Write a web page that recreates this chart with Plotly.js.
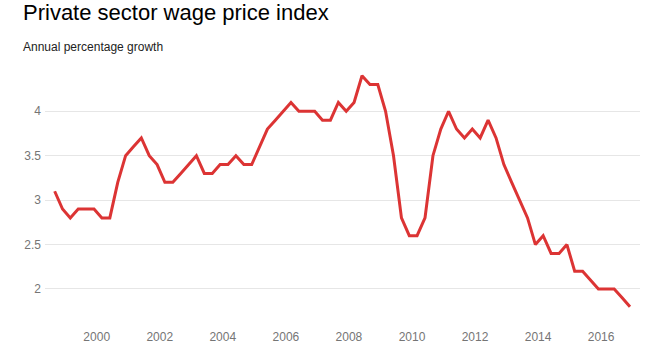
<!DOCTYPE html>
<html>
<head>
<meta charset="utf-8">
<script src="https://cdn.plot.ly/plotly-3.0.1.min.js"></script>
<style>
  html, body { margin: 0; padding: 0; background: #fff; }
  #chart { width: 646px; height: 360px; }
</style>
</head>
<body>
<div id="chart"></div>
<script>
// Quarterly observations (last month of each quarter), Sep 1998 to Dec 2016
const quarters = [
  "1998-09","1998-12",
  "1999-03","1999-06","1999-09","1999-12",
  "2000-03","2000-06","2000-09","2000-12",
  "2001-03","2001-06","2001-09","2001-12",
  "2002-03","2002-06","2002-09","2002-12",
  "2003-03","2003-06","2003-09","2003-12",
  "2004-03","2004-06","2004-09","2004-12",
  "2005-03","2005-06","2005-09","2005-12",
  "2006-03","2006-06","2006-09","2006-12",
  "2007-03","2007-06","2007-09","2007-12",
  "2008-03","2008-06","2008-09","2008-12",
  "2009-03","2009-06","2009-09","2009-12",
  "2010-03","2010-06","2010-09","2010-12",
  "2011-03","2011-06","2011-09","2011-12",
  "2012-03","2012-06","2012-09","2012-12",
  "2013-03","2013-06","2013-09","2013-12",
  "2014-03","2014-06","2014-09","2014-12",
  "2015-03","2015-06","2015-09","2015-12",
  "2016-03","2016-06","2016-09","2016-12"
];

// Annual percentage growth, private sector wage price index
const growth = [
  3.1, 2.9,
  2.8, 2.9, 2.9, 2.9,
  2.8, 2.8, 3.2, 3.5,
  3.6, 3.7, 3.5, 3.4,
  3.2, 3.2, 3.3, 3.4,
  3.5, 3.3, 3.3, 3.4,
  3.4, 3.5, 3.4, 3.4,
  3.6, 3.8, 3.9, 4.0,
  4.1, 4.0, 4.0, 4.0,
  3.9, 3.9, 4.1, 4.0,
  4.1, 4.4, 4.3, 4.3,
  4.0, 3.5, 2.8, 2.6,
  2.6, 2.8, 3.5, 3.8,
  4.0, 3.8, 3.7, 3.8,
  3.7, 3.9, 3.7, 3.4,
  3.2, 3.0, 2.8, 2.5,
  2.6, 2.4, 2.4, 2.5,
  2.2, 2.2, 2.1, 2.0,
  2.0, 2.0, 1.9, 1.8
];

const xTickValues = ["2000-01-01","2002-01-01","2004-01-01","2006-01-01","2008-01-01",
                     "2010-01-01","2012-01-01","2014-01-01","2016-01-01"];
const xTickLabels = ["2000","2002","2004","2006","2008","2010","2012","2014","2016"];
const yTickValues = [2, 2.5, 3, 3.5, 4];
const yTickLabels = ["2", "2.5", "3", "3.5", "4"];

const FONT = 'Arial, "Liberation Sans", sans-serif';

const trace = {
  x: quarters,
  y: growth,
  type: 'scatter',
  mode: 'lines',
  line: { color: '#dc3434', width: 3, shape: 'linear' },
  hovertemplate: '%{x|%b %Y}: %{y}<extra></extra>'
};

const layout = {
  width: 646,
  height: 360,
  margin: { l: 45, r: 6, t: 60, b: 40 },
  paper_bgcolor: '#ffffff',
  plot_bgcolor: '#ffffff',
  showlegend: false,
  font: { family: FONT, size: 12, color: '#757575' },
  title: {
    text: 'Private sector wage price index',
    font: { family: FONT, size: 22, color: '#000000' },
    xref: 'container', yref: 'container',
    x: 23 / 646, xanchor: 'left',
    y: 1 - 5 / 360, yanchor: 'top',
    pad: { t: 0, b: 0, l: 0, r: 0 }
  },
  annotations: [{
    text: 'Annual percentage growth',
    xref: 'paper', yref: 'paper',
    x: (21 - 45) / 595, xanchor: 'left',
    y: (320 - 47) / 260, yanchor: 'middle',
    showarrow: false,
    font: { family: FONT, size: 12, color: '#222222' }
  }],
  xaxis: {
    type: 'date',
    range: ['1998-05-12', '2017-03-27'],
    tickmode: 'array',
    tickvals: xTickValues,
    ticktext: xTickLabels,
    showgrid: false,
    zeroline: false,
    showline: false,
    ticks: '',
    ticklabelstandoff: 8,
    tickfont: { family: FONT, size: 12, color: '#757575' },
    fixedrange: true
  },
  yaxis: {
    range: [1.651, 4.577],
    tickmode: 'array',
    tickvals: yTickValues,
    ticktext: yTickLabels,
    showgrid: true,
    gridcolor: '#e6e6e6',
    gridwidth: 1,
    zeroline: false,
    showline: false,
    ticks: '',
    ticklabelstandoff: 3,
    tickfont: { family: FONT, size: 12, color: '#757575' },
    fixedrange: true
  }
};

Plotly.newPlot('chart', [trace], layout, { displayModeBar: false, staticPlot: true });
</script>
</body>
</html>
